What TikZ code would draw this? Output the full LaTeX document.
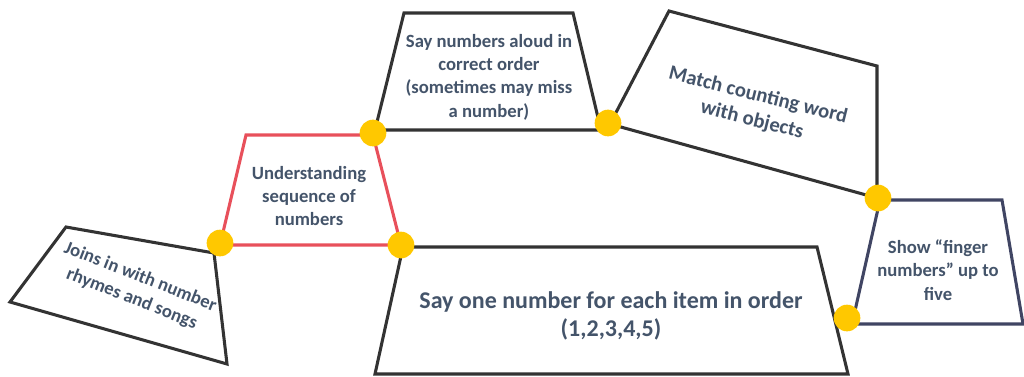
\documentclass[tikz,border=0pt]{standalone}
\usepackage{fontspec}
\setmainfont{Carlito}
\usetikzlibrary{positioning}
\definecolor{edgegray}{RGB}{51, 51, 51}
\definecolor{edgered}{RGB}{232, 80, 91}
\definecolor{edgenavy}{RGB}{64, 69, 99}
\definecolor{dotgold}{RGB}{255, 200, 0}
\definecolor{labelblue}{RGB}{68, 84, 106}

\begin{document}
\begin{tikzpicture}[
    x=0.75pt, y=-0.75pt,
    quad/.style={draw=#1, line width=2.3pt, line join=miter, fill=white},
    label/.style={
        text=labelblue,
        align=center,
        font=\bfseries\fontsize{14}{17.5}\selectfont,
        inner sep=0pt,
    },
    biglabel/.style={
        label,
        font=\bfseries\fontsize{18}{21}\selectfont,
    },
    joint/.style={
        circle,
        fill=dotgold,
        inner sep=0pt,
        minimum size=20pt,
    },
]

% -- Canvas
\useasboundingbox (0,0) rectangle (1024,376);

% -- Corners of the steps
\coordinate (rhymesnw) at (66,227);
\coordinate (rhymesne) at (214,253);
\coordinate (rhymesse) at (227,364);
\coordinate (rhymessw) at (10,302);

\coordinate (seqnw) at (246,135);
\coordinate (seqne) at (373,135);
\coordinate (seqse) at (401,245);
\coordinate (seqsw) at (220,245);

\coordinate (aloudnw) at (404,13);
\coordinate (aloudne) at (573,13);
\coordinate (aloudse) at (601,130);
\coordinate (aloudsw) at (375,130);

\coordinate (matchnw) at (669,11);
\coordinate (matchne) at (877,66);
\coordinate (matchse) at (877,198);
\coordinate (matchsw) at (610,124);

\coordinate (fingernw) at (880,200);
\coordinate (fingerne) at (1002,200);
\coordinate (fingerse) at (1023,324);
\coordinate (fingersw) at (852,324);

\coordinate (itemnw) at (403,247);
\coordinate (itemne) at (817,247);
\coordinate (itemse) at (848,374);
\coordinate (itemsw) at (375,374);

% -- Outlines
\draw[quad=edgegray] (rhymesnw) -- (rhymesne) -- (rhymesse) -- (rhymessw) -- cycle;
\draw[quad=edgered] (seqnw) -- (seqne) -- (seqse) -- (seqsw) -- cycle;
\draw[quad=edgegray] (aloudnw) -- (aloudne) -- (aloudse) -- (aloudsw) -- cycle;
\draw[quad=edgegray] (matchnw) -- (matchne) -- (matchse) -- (matchsw) -- cycle;
\draw[quad=edgegray] (itemnw) -- (itemne) -- (itemse) -- (itemsw) -- cycle;
\draw[quad=edgenavy] (fingernw) -- (fingerne) -- (fingerse) -- (fingersw) -- cycle;

% -- Texts
\node[label, rotate=-21.5] (rhymes) at (136,288) {Joins in with number\\rhymes and songs};
\node[label] (seq) at (309,196) {Understanding\\sequence of\\numbers};
\node[label] (aloud) at (489,77) {Say numbers aloud in\\correct order\\(sometimes may miss\\a number)};
\node[label, rotate=-14, font=\bfseries\fontsize{15.5}{19}\selectfont] (match) at (755,108) {Match counting word\\with objects};
\node[label] (finger) at (938,270) {Show “finger\\numbers” up to\\five};
\node[biglabel] (item) at (611,316) {Say one number for each item in order\\(1,2,3,4,5)};

% -- Joints
\node[joint] (dota) at (220,243) {};
\node[joint] (dotb) at (373,133) {};
\node[joint] (dotc) at (401,245) {};
\node[joint] (dotd) at (608,123) {};
\node[joint] (dote) at (878,198) {};
\node[joint] (dotf) at (847,318) {};

\end{tikzpicture}
\end{document}
